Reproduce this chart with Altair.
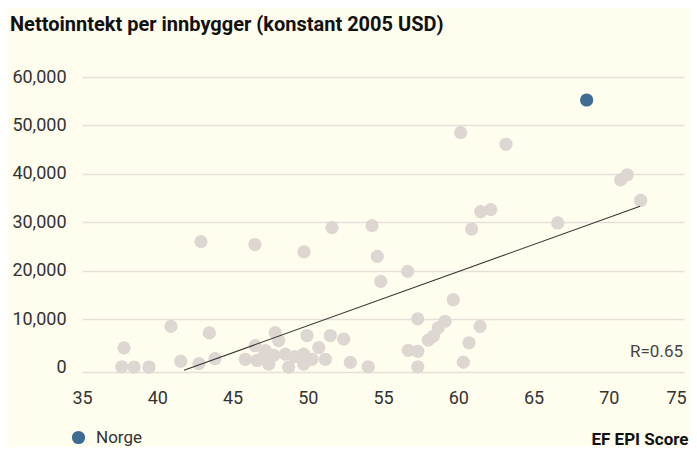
import altair as alt
import pandas as pd

# EF EPI score (x) and net income per capita, constant 2005 USD (y)
epi = [37.64, 37.79, 38.46, 39.45, 40.91, 41.56, 42.77, 42.9, 43.46, 43.84,
       45.85, 46.51, 46.49, 46.63, 47.03, 47.18, 47.41, 47.74, 47.84, 48.07,
       48.51, 48.73, 49.15, 49.73, 49.73, 49.95, 49.75, 50.28, 50.73, 51.17,
       51.5, 51.61, 52.39, 52.83, 54.02, 54.27, 54.62, 54.85, 56.64, 56.68,
       57.31, 57.31, 57.31, 58.01, 58.34, 58.67, 59.12, 59.67, 60.16, 60.34,
       60.71, 60.89, 61.45, 61.49, 62.16, 63.17, 66.61, 70.79, 71.23, 72.12]
income = [150, 4060, 100, 100, 8500, 1300, 800, 26000, 7150, 1850,
          1700, 4500, 25400, 1450, 2050, 3500, 700, 2500, 7200, 5550,
          2750, 100, 2250, 2750, 700, 6600, 23900, 1700, 4100, 1700,
          6600, 28900, 5850, 1050, 150, 29300, 22950, 17800, 19850, 3550,
          3350, 150, 10050, 5650, 6450, 8200, 9550, 14000, 48500, 1100,
          5100, 28600, 8500, 32200, 32600, 46100, 29850, 38750, 39800, 34500]

norge_name = ["Norge"]
norge_epi = [68.53]
norge_income = [55250]

trend_x = [41.78, 72.08]
trend_y = [-550, 33300]

r_label = "R=0.65"
title_text = "Nettoinntekt per innbygger (konstant 2005 USD)"
x_title = "EF EPI Score"

x_ticks = [35, 40, 45, 50, 55, 60, 65, 70, 75]
y_ticks = [0, 10000, 20000, 30000, 40000, 50000, 60000]

FONT = "Roboto"
BG = "#fffdee"
GRID = "#e6e0d8"
DOT = "#ddd6d1"
BLUE = "#3d6d92"

df = pd.DataFrame({"epi": epi, "income": income})
dn = pd.DataFrame({"name": norge_name, "epi": norge_epi, "income": norge_income})
dt = pd.DataFrame({"epi": trend_x, "income": trend_y})

xscale = alt.Scale(domain=[35, 75], nice=False, zero=False)
yscale = alt.Scale(domain=[-930, 60000], nice=False, zero=False)

xaxis = alt.Axis(values=x_ticks, grid=False, ticks=False, domain=True,
                 domainColor=GRID, domainWidth=1.5, labelPadding=17,
                 labelFlush=False,
                 labelOffset=alt.condition("datum.value == 75", alt.value(-8), alt.value(0)),
                 labelFontSize=18, labelColor="#333", labelFont=FONT,
                 title=x_title, titleFont=FONT, titleFontSize=17,
                 titleFontWeight="bold", titleColor="#111",
                 titleAlign="right", titleBaseline="middle",
                 titleX=606, titleY=67)
yaxis = alt.Axis(values=y_ticks, format=",d", grid=True,
                 gridColor=alt.condition("datum.value == 0", alt.value("transparent"), alt.value(GRID)),
                 gridWidth=1.5, ticks=False, domain=False, labelPadding=16,
                 labelFontSize=18, labelColor="#333", labelFont=FONT, title=None)

base = alt.Chart(df).mark_circle(size=175, opacity=1, color=DOT).encode(
    x=alt.X("epi:Q", scale=xscale, axis=xaxis),
    y=alt.Y("income:Q", scale=yscale, axis=yaxis),
)

trend = alt.Chart(dt).mark_line(color="#333", strokeWidth=1.1).encode(
    x=alt.X("epi:Q", scale=xscale),
    y=alt.Y("income:Q", scale=yscale),
)

norge = alt.Chart(dn).mark_circle(size=175, opacity=1).encode(
    x=alt.X("epi:Q", scale=xscale),
    y=alt.Y("income:Q", scale=yscale),
    color=alt.Color("name:N", scale=alt.Scale(domain=norge_name, range=[BLUE]),
                    legend=alt.Legend(title=None, orient="none", legendX=-12, legendY=352,
                                      symbolSize=175, symbolType="circle",
                                      labelFont=FONT, labelFontSize=17,
                                      labelColor="#333", labelOffset=9)),
)

rtext = alt.Chart(pd.DataFrame({"t": [r_label]})).mark_text(
    align="right", baseline="middle", fontSize=17, font=FONT, color="#444"
).encode(x=alt.value(601), y=alt.value(275), text="t:N")

chart = alt.layer(base, trend, norge, rtext).properties(
    width=602, height=295,
    autosize="none",
    padding={"left": 74, "top": 69, "right": 5, "bottom": 75},
    background=BG,
    title=alt.TitleParams(title_text, anchor="start", frame="group", dx=-72,
                          font=FONT, fontSize=20, fontWeight="bold", color="#111",
                          offset=33),
).configure_view(stroke=None)

chart.save("out.html", embed_options={"renderer": "svg", "actions": False})
